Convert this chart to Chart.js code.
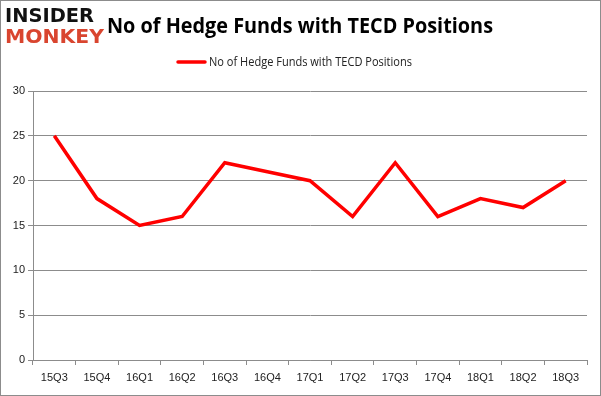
<!DOCTYPE html>
<html>
<head>
<meta charset="utf-8">
<script src="https://cdn.jsdelivr.net/npm/chart.js@4/dist/chart.umd.min.js"></script>
<style>
  html, body { margin: 0; padding: 0; background: #fff; }
  #wrap { width: 601px; height: 396px; position: relative; }
</style>
</head>
<body>
<div id="wrap"><canvas id="lineChart" width="601" height="396"></canvas></div>
<script>
var quarters = ['15Q3', '15Q4', '16Q1', '16Q2', '16Q3', '16Q4', '17Q1', '17Q2', '17Q3', '17Q4', '18Q1', '18Q2', '18Q3'];
var hedgeFunds = [25, 18, 15, 16, 22, 21, 20, 16, 22, 16, 18, 17, 20];
var yTicks = [0, 5, 10, 15, 20, 25, 30];
var chartTitle = 'No of Hedge Funds with TECD Positions';
var seriesName = 'No of Hedge Funds with TECD Positions';

var font = 'Liberation Sans';

// text squeezed to a given width (stands in for Calibri)
function fitText(ctx, text, x, y, width) {
  var w = ctx.measureText(text).width;
  ctx.save();
  ctx.translate(x, y);
  ctx.scale(width / w, 1);
  ctx.fillText(text, 0, 0);
  ctx.restore();
}

// frame, logo, title and legend drawn by hand
var decor = {
  id: 'decor',
  beforeDraw: function (chart) {
    var ctx = chart.ctx;
    ctx.save();
    ctx.fillStyle = '#fff';
    ctx.fillRect(0, 0, 601, 396);
    ctx.strokeStyle = '#8c8c8c';
    ctx.lineWidth = 1;
    ctx.strokeRect(0.5, 0.5, 600, 395);
    ctx.restore();
  },
  afterDraw: function (chart) {
    var ctx = chart.ctx;
    ctx.save();
    ctx.textBaseline = 'alphabetic';
    ctx.textAlign = 'left';
    ctx.font = 'bold 19px "DejaVu Sans"';
    ctx.fillStyle = '#111';
    fitText(ctx, 'INSIDER', 5, 22, 89);
    ctx.fillStyle = '#d9452f';
    fitText(ctx, 'MONKEY', 5, 43, 99);

    ctx.fillStyle = '#000';
    ctx.font = 'bold 21px "Open Sans"';
    fitText(ctx, chartTitle, 107, 33, 386);

    ctx.strokeStyle = '#ff0000';
    ctx.lineWidth = 3.5;
    ctx.lineCap = 'round';
    ctx.beginPath();
    ctx.moveTo(178, 62);
    ctx.lineTo(205, 62);
    ctx.stroke();
    ctx.fillStyle = '#222';
    ctx.font = '12px "Open Sans"';
    fitText(ctx, seriesName, 209, 66, 203);
    ctx.restore();
  }
};

new Chart(document.getElementById('lineChart'), {
  type: 'line',
  data: {
    labels: quarters,
    datasets: [{
      label: seriesName,
      data: hedgeFunds,
      borderColor: '#ff0000',
      borderWidth: 3.5,
      pointRadius: 0,
      tension: 0,
      fill: false
    }]
  },
  options: {
    responsive: false,
    animation: false,
    layout: { padding: { left: 5, right: 14, top: 91, bottom: 0 } },
    plugins: {
      legend: { display: false },
      title: { display: false },
      tooltip: { enabled: false }
    },
    scales: {
      x: {
        offset: true,
        afterFit: function (s) { s.height = 36; },
        grid: { offset: true, drawOnChartArea: false, drawTicks: true, tickLength: 5, color: '#8c8c8c' },
        border: { display: true, color: '#8c8c8c' },
        ticks: { color: '#222', font: { family: font, size: 11 }, padding: 6, maxRotation: 0 }
      },
      y: {
        min: 0,
        max: 30,
        afterFit: function (s) { s.width = 28; },
        afterBuildTicks: function (s) { s.ticks = yTicks.map(function (v) { return { value: v }; }); },
        grid: { color: '#8c8c8c', tickLength: 5 },
        border: { display: true, color: '#8c8c8c' },
        ticks: { color: '#222', font: { family: font, size: 11 }, padding: 3 }
      }
    }
  },
  plugins: [decor]
});
</script>
</body>
</html>
